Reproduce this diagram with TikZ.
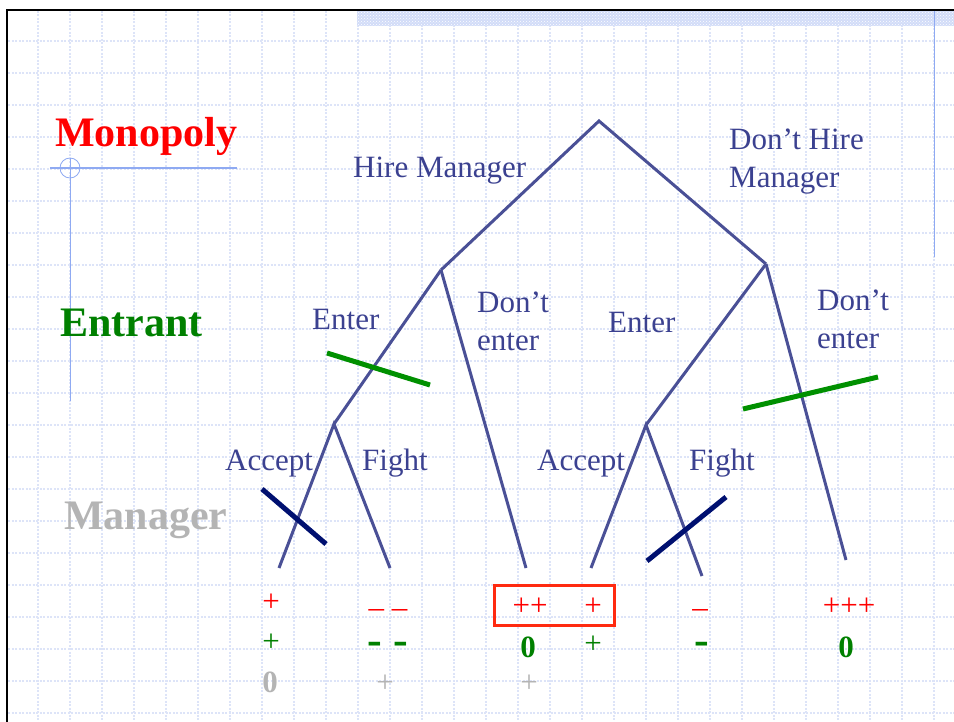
\documentclass[tikz,border=0pt]{standalone}
\usepackage{fontspec}
\setmainfont{Liberation Serif}
\usetikzlibrary{patterns}
\definecolor{TreeBlue}{HTML}{4A5096}
\definecolor{LabelBlue}{HTML}{3B4190}
\definecolor{EntrantGreen}{HTML}{008000}
\definecolor{CutGreen}{HTML}{009000}
\definecolor{CutNavy}{HTML}{001070}
\definecolor{GridBlue}{HTML}{DDE4F8}
\definecolor{BandBlue}{HTML}{D2DCF8}
\definecolor{RuleBlue}{HTML}{8FAAF2}
\definecolor{PayRed}{HTML}{FF0000}
\definecolor{BoxRed}{HTML}{FF2A10}
\definecolor{MgrGray}{HTML}{B4B4B4}
\newcommand{\labsz}{\fontsize{31}{38}\selectfont}
\newcommand{\plsz}{\fontsize{42}{50}\selectfont}
\newcommand{\dashsz}{\fontsize{44}{44}\selectfont}

\begin{document}
\begin{tikzpicture}[x=1pt, y=-1pt,
  branch/.style={color=TreeBlue, line width=3pt, line join=miter},
  cut/.style={line width=5pt},
  gridline/.style={color=GridBlue, line width=1.1pt, dash pattern=on 2pt off 1.5pt},
  lab/.style={anchor=base west, inner sep=0pt, font=\labsz\color{LabelBlue}},
  lab2/.style={anchor=north west, inner sep=0pt, align=left, font=\labsz\color{LabelBlue}},
  player/.style={anchor=base west, inner sep=0pt, font=\plsz\bfseries},
  pay/.style={anchor=base, inner sep=0pt, font=\labsz}]
  \useasboundingbox (0,0) rectangle (954,722);

  % Grid lines
  \foreach \gx in {38,70,...,934}
    \draw[gridline] (\gx,11) -- (\gx,722);
  \foreach \gy in {41,73,...,713}
    \draw[gridline] (8,\gy) -- (954,\gy);

  % Title band and frame
  \fill[BandBlue] (357,11) rectangle (954,26);
  \fill[pattern=crosshatch dots, pattern color=white] (357,11) rectangle (954,26);
  \draw[black, line width=2.5pt] (7,722) -- (7,10) -- (954,10);

  % Slide ornaments
  \draw[RuleBlue, line width=1.5pt] (50,168) -- (237,168);
  \draw[RuleBlue, line width=0.8pt] (70,168) circle (10);
  \draw[RuleBlue, line width=1pt] (70,158) -- (70,401);
  \draw[RuleBlue, line width=1pt] (934,11) -- (934,257);

  % Players
  \node[player, color=PayRed] (mono) at (55,147) {Monopoly};
  \node[player, color=EntrantGreen] (entr) at (60,337) {Entrant};
  \node[player, color=MgrGray] (mgr) at (64,529) {Manager};

  % Decision points and ends
  \coordinate (root) at (599,121);
  \coordinate (hire) at (441,270);
  \coordinate (nohire) at (766,264);
  \coordinate (ent1) at (334,424);
  \coordinate (ent2) at (646,425);
  \coordinate (acc1) at (279,568);
  \coordinate (fig1) at (390,568);
  \coordinate (out1) at (526,568);
  \coordinate (acc2) at (591,568);
  \coordinate (fig2) at (702,576);
  \coordinate (out2) at (846,560);

  % Branches
  \draw[branch] (hire) -- (root) -- (nohire);
  \draw[branch] (hire) -- (ent1);
  \draw[branch] (hire) -- (out1);
  \draw[branch] (nohire) -- (ent2);
  \draw[branch] (nohire) -- (out2);
  \draw[branch] (acc1) -- (ent1) -- (fig1);
  \draw[branch] (acc2) -- (ent2) -- (fig2);

  % Branch labels
  \node[lab] (lhire) at (353,178) {Hire Manager};
  \node[lab2] (lnohire) at (729,129) {Don’t Hire\\Manager};
  \node[lab] (lent1) at (312,330) {Enter};
  \node[lab2] (lout1) at (477,292) {Don’t\\enter};
  \node[lab] (lent2) at (608,333) {Enter};
  \node[lab2] (lout2) at (817,290) {Don’t\\enter};
  \node[lab] (lacc1) at (225,470) {Accept};
  \node[lab] (lfig1) at (362,470) {Fight};
  \node[lab] (lacc2) at (537,470) {Accept};
  \node[lab] (lfig2) at (689,470) {Fight};

  % Pruned moves
  \draw[cut, CutGreen] (327,353) -- (430,385);
  \draw[cut, CutGreen] (743,409) -- (878,377);
  \draw[cut, CutNavy] (262,489) -- (326,544);
  \draw[cut, CutNavy] (647,561) -- (726,497);

  % Payoffs: monopoly
  \node[pay, color=PayRed] (pm1) at (271,611) {+};
  \node[pay, color=PayRed] (pm2) at (388,617) {– –};
  \node[pay, color=PayRed] (pm3) at (530,615) {++};
  \node[pay, color=PayRed] (pm4) at (593,615) {+};
  \node[pay, color=PayRed] (pm5) at (700,617) {–};
  \node[pay, color=PayRed] (pm6) at (849,615) {+++};

  % Payoffs: entrant
  \node[pay, color=EntrantGreen] (pe1) at (271,651) {+};
  \node[pay, color=EntrantGreen, font=\dashsz\bfseries] (pe2) at (388,654) {- -};
  \node[pay, color=EntrantGreen, font=\labsz\bfseries] (pe3) at (528,657) {0};
  \node[pay, color=EntrantGreen] (pe4) at (593,653) {+};
  \node[pay, color=EntrantGreen, font=\dashsz\bfseries] (pe5) at (702,654) {-};
  \node[pay, color=EntrantGreen, font=\labsz\bfseries] (pe6) at (846,657) {0};

  % Payoffs: manager
  \node[pay, color=MgrGray, font=\labsz\bfseries] (pg1) at (270,692) {0};
  \node[pay, color=MgrGray] (pg2) at (385,692) {+};
  \node[pay, color=MgrGray] (pg3) at (529,692) {+};

  % Equilibrium outcome
  \draw[BoxRed, line width=3pt] (494,585) rectangle (614,625);
\end{tikzpicture}
\end{document}
